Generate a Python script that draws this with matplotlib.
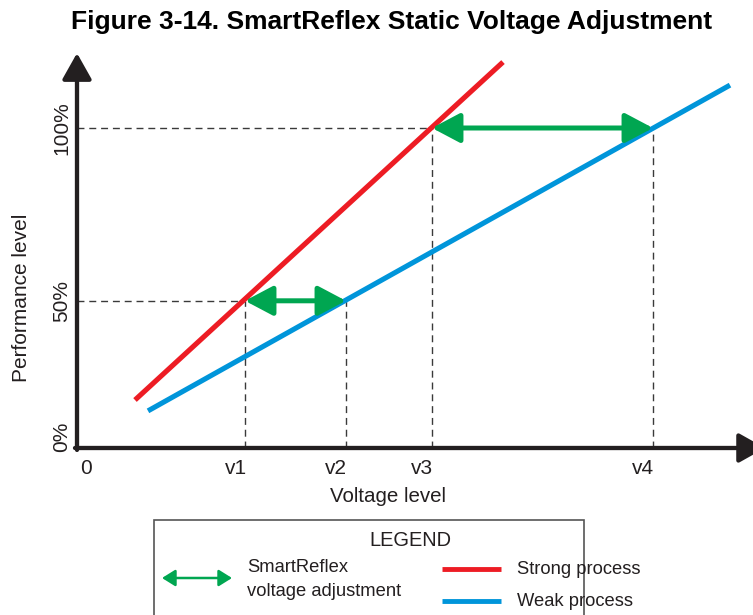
import matplotlib
matplotlib.use("Agg")
import matplotlib.pyplot as plt
from matplotlib.patches import FancyArrowPatch, Rectangle

plt.rcParams['font.family'] = ['Liberation Sans', 'DejaVu Sans']

# data (x in voltage units, y in performance units)
volt_ticks = [0, 1.68, 2.69, 3.55, 5.76]
volt_labels = ['0', 'v1', 'v2', 'v3', 'v4']
perf_ticks = [3.4, 46, 100]
perf_labels = ['0%', '50%', '100%']
strong_x = [0.58, 4.26]
strong_y = [15, 120.6]
weak_x = [0.71, 6.53]
weak_y = [11.6, 113.4]
# adjustment arrows: (from strong, to weak) at a given performance level
adjust_from = [1.68, 3.55]
adjust_to = [2.69, 5.76]
adjust_level = [46, 100]

RED = '#ED1C24'
BLUE = '#0095DA'
GREEN = '#00A651'
INK = '#231F20'
W, H = 753, 615

fig = plt.figure(figsize=(W / 100, H / 100), dpi=100)
ax = fig.add_axes([0, 0, 1, 1])
ax.set_xlim(-0.77, (W - 77) / 100)
ax.set_ylim((448 - H) / 3.2, 448 / 3.2)
ax.axis('off')


def px(x, y):
    # pixel position -> axes fraction
    return x / W, 1 - y / H


# dashed guide lines
dash = dict(color='#3a3a3a', lw=1.0, linestyle=(0, (5, 3.5)), zorder=1)
for xa, xb, lv in zip(adjust_from, adjust_to, adjust_level):
    ax.plot([0, xa], [lv, lv], **dash)
    ax.plot([xa, xa], [0, lv], **dash)
    ax.plot([xb, xb], [0, lv], **dash)

# process lines
ax.plot(strong_x, strong_y, color=RED, lw=3.7, solid_capstyle='butt', zorder=2)
ax.plot(weak_x, weak_y, color=BLUE, lw=3.7, solid_capstyle='butt', zorder=2)

# adjustment arrows
for xa, xb, lv in zip(adjust_from, adjust_to, adjust_level):
    arr = FancyArrowPatch((xa, lv), (xb, lv),
                          arrowstyle='<|-|>,head_length=0.85,head_width=0.45',
                          mutation_scale=20, color=GREEN, lw=3.6,
                          shrinkA=0, shrinkB=0, zorder=3)
    ax.add_patch(arr)

# axes with arrows
ax.add_patch(FancyArrowPatch((0, -0.6), (0, 123.4),
                             arrowstyle='-|>,head_length=0.8,head_width=0.45',
                             mutation_scale=20, color=INK, lw=3.1,
                             shrinkA=0, shrinkB=0, zorder=4))
ax.add_patch(FancyArrowPatch((-0.02, 0), (6.88, 0),
                             arrowstyle='-|>,head_length=0.8,head_width=0.45',
                             mutation_scale=20, color=INK, lw=3.1,
                             shrinkA=0, shrinkB=0, zorder=4))

# tick labels
label_x = [0.09, 1.59, 2.59, 3.45, 5.66]
for lx, lab in zip(label_x, volt_labels):
    ax.text(lx, -6.4, lab, ha='center', va='center', fontsize=15, color=INK)
for py, lab in zip(perf_ticks, perf_labels):
    ax.text(-0.15, py, lab, ha='center', va='center', rotation=90,
            fontsize=15, color=INK)

ax.text(3.11, -15.3, 'Voltage level', ha='center', va='center',
        fontsize=14.8, color=INK)
ax.text(-0.55, 46.9, 'Performance level', ha='center', va='center',
        rotation=90, fontsize=15, color=INK)

fig.text(392 / W, 1 - 21.5 / H, 'Figure 3-14. SmartReflex Static Voltage Adjustment',
         ha='center', va='center', fontsize=19, fontweight='bold', color='black')

# legend box
x0, y0 = px(154, 620)
x1, y1 = px(584, 520)
ax.add_patch(Rectangle((x0, y0), x1 - x0, y1 - y0, transform=ax.transAxes,
                       fill=False, edgecolor='#555555', lw=1.2, clip_on=False))
ax.text(*px(410, 541), 'LEGEND', transform=ax.transAxes, ha='center',
        va='center', fontsize=14.4, color=INK)

ax.add_patch(FancyArrowPatch(px(162, 578), px(232, 578), transform=ax.transAxes,
                             arrowstyle='<|-|>,head_length=0.8,head_width=0.5',
                             mutation_scale=10, color=GREEN, lw=1.8,
                             shrinkA=0, shrinkB=0))
ax.text(*px(247, 568), 'SmartReflex', transform=ax.transAxes, ha='left',
        va='center', fontsize=13.2, color=INK)
ax.text(*px(247, 592), 'voltage adjustment', transform=ax.transAxes, ha='left',
        va='center', fontsize=13.2, color=INK)

for yy, col, lab in [(569, RED, 'Strong process'), (601, BLUE, 'Weak process')]:
    xa, ya = px(442, yy)
    xb, _ = px(501, yy)
    ax.plot([xa, xb], [ya, ya], transform=ax.transAxes, color=col, lw=3.5,
            solid_capstyle='butt')
    ax.text(*px(517, yy + 1), lab, transform=ax.transAxes, ha='left',
            va='center', fontsize=13.2, color=INK)

fig.savefig('out.png', dpi=100)
